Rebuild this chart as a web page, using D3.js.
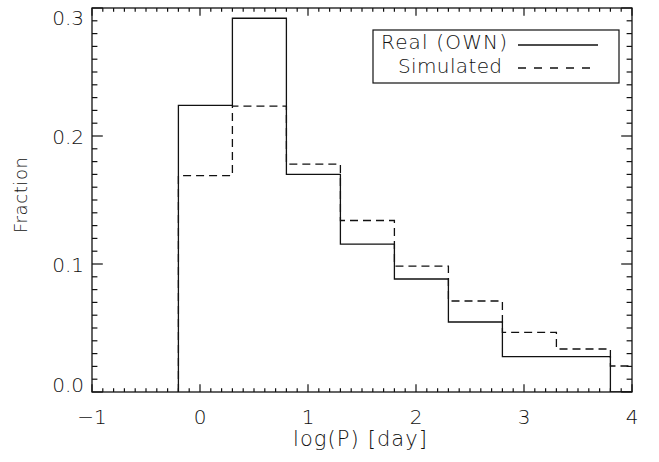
<!DOCTYPE html>
<html>
<head>
<meta charset="utf-8">
<script src="https://cdn.jsdelivr.net/npm/d3@7"></script>
<style>
  body { margin: 0; background: #fff; }
  text { font-family: "DejaVu Sans", sans-serif; font-weight: 200; fill: #111; }
</style>
</head>
<body>
<svg width="659" height="462"></svg>
<script>
// histogram bins: left edges, width 0.5 in log(P)
const binEdges = [-0.2, 0.3, 0.8, 1.3, 1.8, 2.3, 2.8, 3.3, 3.8, 4.3];
const realFrac = [0.224, 0.292, 0.170, 0.1156, 0.0883, 0.0547, 0.0276, 0.0276, 0];
const simFrac  = [0.169, 0.2234, 0.178, 0.134, 0.0984, 0.0711, 0.0466, 0.0336, 0.0203];
const xTicks = [-1, 0, 1, 2, 3, 4];
const yTicks = [0.0, 0.1, 0.2, 0.3];
const legendLabels = ["Real (OWN)", "Simulated"];

const svg = d3.select("svg");
const pl = 92, pr = 632, pt = 8, pb = 392;

const x = d3.scaleLinear().domain([-1, 4]).range([pl, pr]);
const y = d3.scaleLinear().domain([0, 0.3]).range([pb, pt]);

const ink = "#111";
const majX = 0.02 * (pb - pt), majY = 0.02 * (pr - pl);

svg.append("defs").append("clipPath").attr("id", "plotclip")
  .append("rect").attr("x", pl).attr("y", pt)
  .attr("width", pr - pl).attr("height", pb - pt);

// step outline like IDL psym=10 histogram
function stepPath(vals) {
  const pts = [[binEdges[0], 0]];
  vals.forEach((v, i) => {
    pts.push([binEdges[i], v]);
    pts.push([binEdges[i + 1], v]);
  });
  pts.push([binEdges[vals.length], 0]);
  return d3.line().x(d => x(d[0])).y(d => y(d[1]))(pts);
}

const g = svg.append("g").attr("clip-path", "url(#plotclip)");
g.append("path").attr("d", stepPath(simFrac))
  .attr("fill", "none").attr("stroke", ink).attr("stroke-width", 1.3)
  .attr("stroke-dasharray", "8,5");
g.append("path").attr("d", stepPath(realFrac))
  .attr("fill", "none").attr("stroke", ink).attr("stroke-width", 1.3);

// frame
svg.append("rect").attr("x", pl).attr("y", pt)
  .attr("width", pr - pl).attr("height", pb - pt)
  .attr("fill", "none").attr("stroke", ink).attr("stroke-width", 1.3);

// ticks on all four sides
const ticks = svg.append("g").attr("stroke", ink).attr("stroke-width", 1.2);
const xMinor = d3.range(-1, 4.0001, 0.1).map(v => +v.toFixed(1));
xMinor.forEach(v => {
  const len = Number.isInteger(v) ? majX : majX / 2;
  ticks.append("line").attr("x1", x(v)).attr("x2", x(v)).attr("y1", pb).attr("y2", pb - len);
  ticks.append("line").attr("x1", x(v)).attr("x2", x(v)).attr("y1", pt).attr("y2", pt + len);
});
const yMinor = d3.range(0, 0.3001, 0.01).map(v => +v.toFixed(2));
yMinor.forEach((v, i) => {
  const len = i % 10 === 0 ? majY : majY / 2;
  ticks.append("line").attr("y1", y(v)).attr("y2", y(v)).attr("x1", pl).attr("x2", pl + len);
  ticks.append("line").attr("y1", y(v)).attr("y2", y(v)).attr("x1", pr).attr("x2", pr - len);
});

// tick labels
svg.append("g").selectAll("text").data(xTicks).join("text")
  .attr("x", d => x(d)).attr("y", 424)
  .attr("text-anchor", "middle").attr("font-size", 20)
  .text(d => d < 0 ? "\u2212" + Math.abs(d) : d);

svg.append("g").selectAll("text").data(yTicks).join("text")
  .attr("x", 84)
  .attr("y", d => Math.min(pb, Math.max(pt + 17, y(d) + 8)))
  .attr("text-anchor", "end").attr("font-size", 20)
  .text(d => d.toFixed(1));

// axis titles
svg.append("text").attr("x", 293).attr("y", 446)
  .attr("font-size", 21).attr("textLength", 134)
  .text("log(P) [day]");
svg.append("text").attr("transform", "translate(27,233) rotate(-90)")
  .attr("font-size", 18).attr("textLength", 76)
  .text("Fraction");

// legend
svg.append("rect").attr("x", 373).attr("y", 30).attr("width", 246).attr("height", 53)
  .attr("fill", "none").attr("stroke", ink).attr("stroke-width", 1.2);
svg.append("text").attr("x", 381).attr("y", 49).attr("font-size", 20)
  .attr("textLength", 126).text(legendLabels[0]);
svg.append("text").attr("x", 398).attr("y", 73).attr("font-size", 20)
  .attr("textLength", 104).text(legendLabels[1]);
svg.append("line").attr("x1", 518).attr("x2", 598).attr("y1", 45).attr("y2", 45)
  .attr("stroke", ink).attr("stroke-width", 1.3);
svg.append("line").attr("x1", 518).attr("x2", 592).attr("y1", 68).attr("y2", 68)
  .attr("stroke", ink).attr("stroke-width", 1.3).attr("stroke-dasharray", "8,8");
</script>
</body>
</html>
